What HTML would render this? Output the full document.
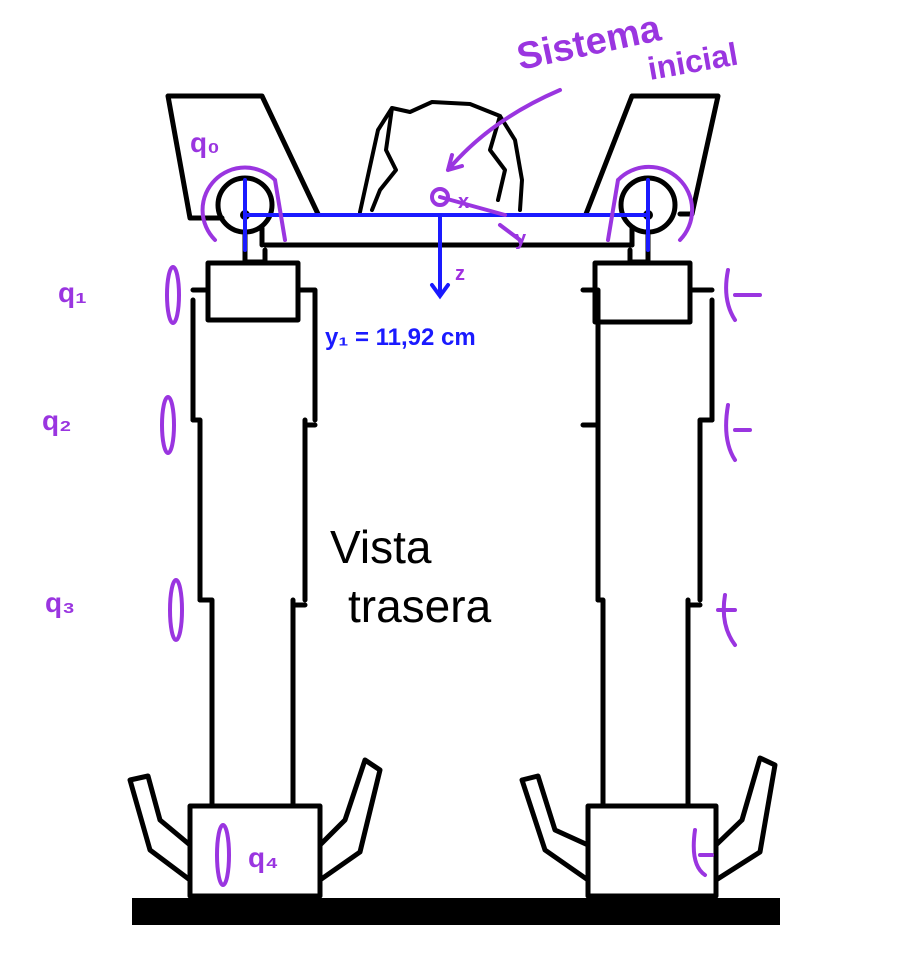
<!DOCTYPE html>
<html><head><meta charset="utf-8"><style>
html,body{margin:0;padding:0;background:#fff;}
svg{display:block}
text{font-family:"Liberation Sans",sans-serif;}
</style></head><body>
<svg width="901" height="966" viewBox="0 0 901 966">
<rect width="901" height="966" fill="#fff"/>
<g fill="none" stroke="#000" stroke-width="5" stroke-linejoin="round" stroke-linecap="round">
 <path d="M168 96 L262 96 L318 214 M168 96 L190 218 L222 218"/>
 <path d="M632 96 L718 96 L692 214 L680 214 M632 96 L586 214"/>
 <circle cx="245" cy="205" r="27"/>
 <circle cx="648" cy="205" r="27"/>
 <path d="M265 245 L632 245"/>
 <path d="M262 228 L262 245 M632 228 L632 245"/>
 <path stroke-width="4" d="M360 212 L378 130 L392 108 L410 112 L432 102 L470 104 L500 116 L515 140 L522 180 L520 210 M392 108 L386 150 L396 170 L380 190 L372 210 M500 116 L490 150 L505 170 L498 200"/>
 <path d="M245 235 L245 262 L265 262 L265 250"/>
 <rect x="208" y="263" width="90" height="57"/>
 <path d="M193 300 L193 420 M315 290 L315 420 M193 290 L208 290 M298 290 L315 290"/>
 <path d="M200 420 L200 600 M305 420 L305 600 M193 420 L200 420 M305 425 L315 425"/>
 <path d="M212 600 L212 805 M293 600 L293 805 M200 600 L212 600 M293 605 L305 605"/>
 <rect x="190" y="806" width="130" height="90"/>
 <path d="M190 880 L150 850 L130 780 L148 776 L160 820 L190 845 M320 880 L360 852 L380 770 L365 760 L345 820 L320 845"/>
 <path d="M648 235 L648 262 L630 262 L630 250"/>
 <rect x="595" y="263" width="95" height="59"/>
 <path d="M598 290 L598 420 M712 300 L712 420 M583 290 L595 290 M690 290 L712 290"/>
 <path d="M598 420 L598 600 M700 420 L700 600 M583 425 L598 425 M700 420 L712 420"/>
 <path d="M603 600 L603 805 M688 600 L688 805 M598 600 L603 600 M688 605 L700 605"/>
 <rect x="588" y="806" width="128" height="90"/>
 <path d="M588 880 L545 850 L522 780 L538 776 L555 830 L588 845 M716 880 L760 852 L775 765 L760 758 L742 820 L716 845"/>
</g>
<rect x="132" y="898" width="648" height="27" fill="#000"/>
<circle cx="245" cy="215" r="5" fill="#000"/><circle cx="648" cy="215" r="5" fill="#000"/>
<g stroke="#1a1aff" stroke-width="4" fill="none" stroke-linecap="round">
 <path d="M245 215 L648 215"/>
 <path d="M245 180 L245 250 M648 180 L648 250"/>
 <path d="M440 215 L440 295 M432 285 L440 296 L448 285"/>
</g>
<text x="325" y="345" fill="#1a1aff" font-size="24" font-weight="bold">y₁ = 11,92 cm</text>
<text x="455" y="280" fill="#a030e0" font-size="20" font-weight="bold">z</text>
<g stroke="#9a35e0" stroke-width="4" fill="none" stroke-linecap="round">
 <path d="M560 90 Q490 120 448 170 M448 170 L452 155 M448 170 L462 166"/>
 <circle cx="440" cy="197" r="8"/>
 <path d="M440 197 L505 215 M500 225 L520 240"/>
 <path d="M275 180 A38 38 0 1 0 215 240 M275 180 L285 240"/>
 <path d="M618 180 A38 38 0 1 1 680 240 M618 180 L608 240"/>
 <ellipse cx="173" cy="295" rx="6" ry="28"/>
 <ellipse cx="168" cy="425" rx="6" ry="28"/>
 <ellipse cx="176" cy="610" rx="6" ry="30"/>
 <ellipse cx="223" cy="855" rx="6" ry="30"/>
 <path d="M728 270 Q722 300 735 320 M728 405 Q722 440 735 460 M725 595 Q720 625 735 645 M695 830 Q690 865 705 875 M735 295 L760 295 M735 430 L750 430 M718 610 L735 610 M700 855 L712 855"/>
</g>
<g fill="#9a35e0" font-weight="bold">
 <text x="520" y="70" font-size="38" transform="rotate(-12 520 70)">Sistema</text>
 <text x="650" y="80" font-size="32" transform="rotate(-10 650 80)">inicial</text>
 <text x="190" y="152" font-size="28">q₀</text>
 <text x="58" y="302" font-size="28">q₁</text>
 <text x="42" y="430" font-size="28">q₂</text>
 <text x="45" y="612" font-size="28">q₃</text>
 <text x="248" y="867" font-size="28">q₄</text>
 <text x="458" y="208" font-size="20">x</text>
 <text x="515" y="245" font-size="20">y</text>
</g>
<text x="330" y="563" font-size="46" fill="#000">Vista</text>
<text x="348" y="622" font-size="46" fill="#000">trasera</text>
</svg>
</body></html>
